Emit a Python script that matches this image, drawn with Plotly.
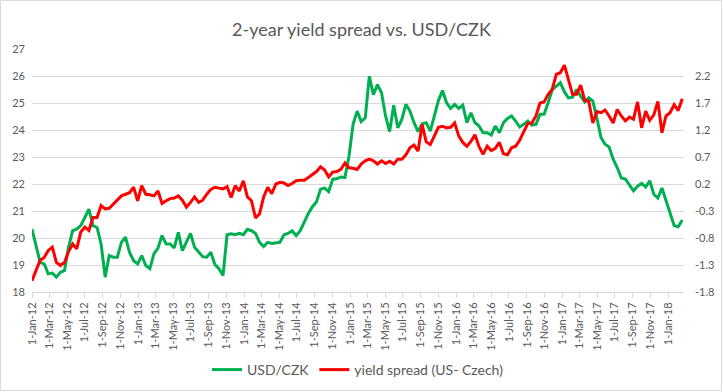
import plotly.graph_objects as go
import pandas as pd

# ---- data (biweekly readings from the reference) ----
start_date = "2012-01-01"
n_points = 161

usd_czk = [
    20.33, 19.66, 19.10, 19.04, 18.67, 18.70, 18.55, 18.73, 18.80, 19.66, 20.27, 20.33, 20.46, 20.76, 21.07, 20.46,
    20.39, 19.78, 18.55, 19.35, 19.29, 19.29, 19.84, 20.03, 19.47, 19.16, 19.04, 19.35, 18.98, 18.86, 19.41, 19.63, 20.09,
    19.78, 19.78, 19.63, 20.21, 19.53, 19.84, 20.17, 19.66, 19.47, 19.31, 19.29, 19.47, 19.02, 18.86, 18.61, 20.12,
    20.16, 20.12, 20.17, 20.12, 20.32, 20.27, 20.17, 19.84, 19.68, 19.84, 19.80, 19.83, 19.84, 20.12, 20.17, 20.27,
    20.09, 20.27, 20.62, 20.91, 21.16, 21.34, 21.81, 21.85, 21.72, 22.18, 22.19, 22.26, 22.24, 23.04, 24.21, 24.70,
    24.31, 24.45, 25.99, 25.31, 25.68, 25.38, 24.52, 23.94, 24.92, 24.08, 24.39, 24.95, 24.70, 24.27, 23.94, 24.23,
    24.27, 23.96, 24.52, 25.09, 25.46, 25.01, 24.80, 24.95, 24.80, 24.92, 24.27, 24.64, 24.27, 24.15, 23.90, 23.90,
    23.81, 24.15, 23.90, 24.27, 24.43, 24.52, 24.33, 24.11, 24.21, 24.33, 24.18, 24.21, 24.58, 24.58, 25.01, 25.50,
    25.62, 25.75, 25.41, 25.19, 25.22, 25.50, 25.25, 25.04, 25.19, 25.07, 24.43, 23.72, 23.47, 23.37, 22.92, 22.61,
    22.22, 22.18, 21.97, 21.75, 21.92, 22.02, 21.89, 22.12, 21.62, 21.48, 21.85, 21.38, 20.95, 20.46, 20.42, 20.67,
]

yield_spread = [
    -1.59, -1.40, -1.21, -1.16, -1.03, -0.97, -1.25, -1.31, -1.25, -1.05, -0.91, -1.00, -0.69, -0.60, -0.66, -0.42,
    -0.42, -0.20, -0.26, -0.25, -0.17, -0.10, -0.02, 0.01, 0.04, 0.14, -0.11, 0.17, 0.01, 0.00, -0.02, 0.07, -0.16,
    -0.11, -0.07, -0.06, -0.02, -0.10, -0.23, -0.14, -0.04, -0.14, -0.10, 0.01, 0.10, 0.14, 0.12, 0.11, 0.15,
    -0.05, 0.17, 0.07, 0.26, -0.04, -0.11, -0.43, -0.35, -0.04, 0.14, 0.02, 0.20, 0.23, 0.22, 0.17, 0.21,
    0.26, 0.27, 0.27, 0.32, 0.38, 0.43, 0.52, 0.46, 0.33, 0.42, 0.43, 0.47, 0.59, 0.50, 0.49, 0.47,
    0.57, 0.63, 0.66, 0.63, 0.57, 0.63, 0.58, 0.62, 0.57, 0.66, 0.66, 0.74, 0.87, 0.92, 0.81, 1.30,
    0.98, 0.93, 1.09, 1.25, 1.27, 1.24, 1.25, 1.33, 1.09, 0.97, 0.90, 0.99, 1.11, 0.89, 0.75, 0.90,
    0.82, 0.86, 0.97, 0.76, 0.74, 0.87, 0.90, 1.01, 1.17, 1.32, 1.33, 1.46, 1.70, 1.72, 1.86, 1.95,
    2.23, 2.26, 2.40, 2.12, 1.86, 1.86, 2.03, 1.75, 1.73, 1.33, 1.54, 1.52, 1.57, 1.46, 1.33, 1.58,
    1.46, 1.37, 1.44, 1.40, 1.72, 1.24, 1.55, 1.38, 1.48, 1.73, 1.15, 1.46, 1.52, 1.67, 1.56, 1.78,
]

dates = pd.date_range(start_date, periods=n_points, freq="14D")

left_ticks = list(range(18, 28))
right_ticks = [-1.8, -1.3, -0.8, -0.3, 0.2, 0.7, 1.2, 1.7, 2.2]
right_labels = ["-1.8", "-1.3", "-0.8", "-0.3", "0.2", "0.7", "1.2", "1.7", "2.2"]

# ---- figure ----
W, H = 723, 392
L, R, T, B = 32, 39, 49, 100
PW, PH = W - L - R, H - T - B

GREEN = "#00B050"
RED = "#FF0000"
GRID = "#D9D9D9"
TXT = "#595959"
FONT = "Lato"

fig = go.Figure()
fig.add_trace(go.Scatter(x=dates, y=usd_czk, name="USD/CZK", mode="lines",
                         line=dict(color=GREEN, width=3), yaxis="y"))
fig.add_trace(go.Scatter(x=dates, y=yield_spread, name="yield spread (US- Czech)", mode="lines",
                         line=dict(color=RED, width=3), yaxis="y2"))

fig.update_layout(
    width=W, height=H,
    margin=dict(l=L, r=R, t=T, b=B, autoexpand=False),
    paper_bgcolor="white", plot_bgcolor="white",
    font=dict(family=FONT, color=TXT, size=11),
    title=dict(text="2-year yield spread vs. USD/CZK", x=0.5, xanchor="center",
               y=1 - 30 / H, yanchor="middle",
               font=dict(family=FONT, size=18, color=TXT)),
    xaxis=dict(
        type="date",
        range=["2012-01-01", "2018-02-24"],
        tick0="2012-01-01", dtick="M2",
        tickformat="%-d-%b-%y", tickangle=-90,
        showgrid=False, showline=True, linecolor=GRID, linewidth=1,
        ticks="outside", ticklen=5, tickcolor=GRID,
        tickfont=dict(size=11, color=TXT, family=FONT),
        zeroline=False, automargin=False,
    ),
    yaxis=dict(
        range=[18, 27], tickvals=left_ticks,
        showgrid=True, gridcolor=GRID, gridwidth=1,
        showline=False, zeroline=False, ticks="",
        tickfont=dict(size=11, color=TXT, family=FONT),
        ticklabelstandoff=6, automargin=False,
    ),
    yaxis2=dict(
        range=[-1.8, 2.7], overlaying="y", side="right",
        tickvals=right_ticks, ticktext=right_labels,
        showgrid=False, showline=False, zeroline=False, ticks="",
        tickfont=dict(size=11, color=TXT, family=FONT),
        ticklabelstandoff=10, automargin=False,
    ),
    legend=dict(orientation="h", x=0.5, xanchor="center",
                y=-(370 - (T + PH)) / PH, yanchor="middle",
                font=dict(size=14, color=TXT, family=FONT),
                bgcolor="rgba(0,0,0,0)"),
    showlegend=True,
)

# chart-area border
fig.add_shape(type="rect", xref="paper", yref="paper",
              x0=(0.5 - L) / PW, x1=(W - 1.5 - L) / PW,
              y0=-(B - 1.5) / PH, y1=1 + (T - 0.5) / PH,
              line=dict(color=GRID, width=1), fillcolor="rgba(0,0,0,0)", layer="below")

fig.write_html("out.html",
               config={"displayModeBar": False},
               post_script="document.body.style.margin='0';document.body.style.overflow='hidden';")
